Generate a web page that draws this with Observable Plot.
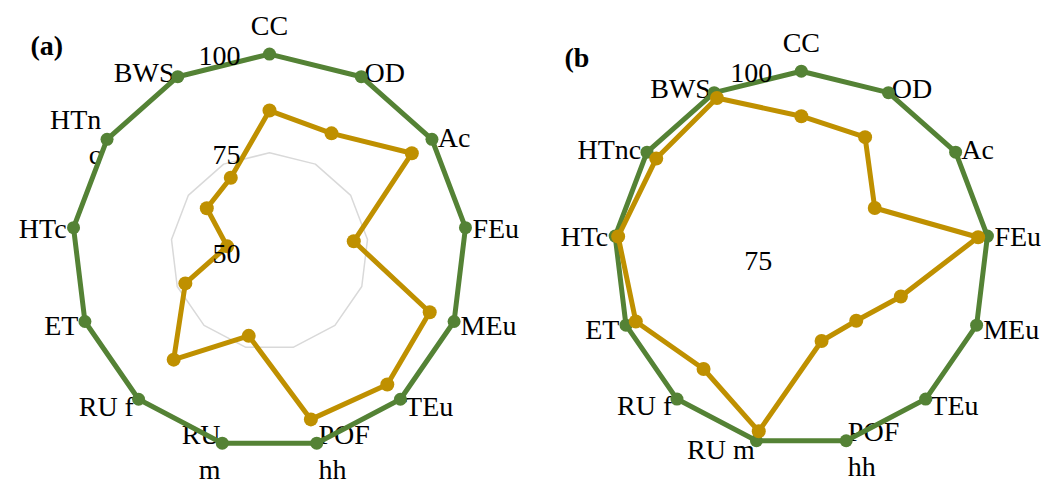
<!DOCTYPE html>
<html><head><meta charset="utf-8">
<script src="https://cdn.jsdelivr.net/npm/d3@7"></script>
<script src="https://cdn.jsdelivr.net/npm/@observablehq/plot@0.6"></script>
<style>
html,body{margin:0;padding:0;background:#fff;}
#wrap{display:flex;width:1050px;height:482px;overflow:hidden;}
#wrap svg{overflow:visible;display:block;}
</style></head><body><div id="wrap"></div>
<script>
// ---- data ----
const axes = ["CC","OD","Ac","FEu","MEu","TEu","POF hh","RU m","RU f","ET","HTc","HTnc","BWS"];
const labelsA = ["CC","OD","Ac","FEu","MEu","TEu","POF\nhh","RU\nm","RU f","ET","HTc","HTn\nc","BWS"];
const labelsB = ["CC","OD","Ac","FEu","MEu","TEu","POF\nhh","RU m","RU f","ET","HTc","HTnc","BWS"];
const greenA = [100,100,100,100,100,100,100,100,100,100,100,100,100];
const goldA  = [85.7,83.8,93.8,71.5,93.4,95.0,93.8,72.0,86.6,72.8,60.8,69.3,71.1];
const greenB = [100,100,100,100,100,100,100,100,100,100,100,100,100];
const goldB  = [94.0,93.3,86.9,98.75,89.2,86.05,86.3,98.7,94.65,98.6,99.6,98.5,99.2];
const ticksA = [50,75,100];
const ringsA = [75,100];
const ticksB = [75,100];
const ringsB = [100];
const titles = ["(a)","(b"];

// ---- layout ----
const GREEN = "#548235", GOLD = "#BF9000", GRID = "#D9D9D9";
const FONT = "'Liberation Serif', 'Times New Roman', serif";
const panels = [
  {title: titles[0], labels: labelsA, green: greenA, gold: goldA, rmin: 50, rmax: 100, ticks: ticksA, rings: ringsA,
   cx: 269, cy: 251, R: 197.4, titleX: 30, titleY: 43},
  {title: titles[1], labels: labelsB, green: greenB, gold: goldB, rmin: 75, rmax: 100, ticks: ticksB, rings: ringsB,
   cx: 275.8, cy: 258.2, R: 187.5, titleX: 39, titleY: 55}
];

function radar(p) {
  const W = 525, H = 482, n = axes.length;
  const theta = i => 2 * Math.PI * i / n;
  const rad = v => (v - p.rmin) / (p.rmax - p.rmin);
  const at = (r, i) => ({x: r * Math.sin(theta(i)), y: r * Math.cos(theta(i))});
  const series = vals => vals.map((v, i) => ({axis: axes[i], v, ...at(rad(v), i)}));
  const closed = pts => [...pts, pts[0]];
  const greenPts = series(p.green), goldPts = series(p.gold);
  const gridPts = p.rings.flatMap(t => closed(axes.map((a, i) => ({t, ...at(rad(t), i)}))));
  const off = 7 / p.R;
  const lab = p.labels.map((label, i) => ({label, s: Math.sin(theta(i)), ...at(1 + off, i)}));
  const labTop = p.labels.map((label, i) => ({label, s: Math.sin(theta(i)), ...at(1 + 30 / p.R, i)}));
  const tickPts = p.ticks.map(t => ({t, x: -29 / p.R, y: rad(t)}));
  const xDomain = [-p.cx / p.R, (W - p.cx) / p.R];
  const yDomain = [-(H - p.cy) / p.R, p.cy / p.R];
  const common = {fontSize: 28, fontFamily: FONT, fill: "#000", lineHeight: 1.25};
  return Plot.plot({
    width: W, height: H, margin: 0,
    x: {domain: xDomain, axis: null},
    y: {domain: yDomain, axis: null},
    style: {fontFamily: FONT, background: "transparent"},
    marks: [
      Plot.line(gridPts, {x: "x", y: "y", z: "t", stroke: GRID, strokeWidth: 1.5}),
      Plot.text(lab.filter(d => d.s > 0.05), {x: "x", y: "y", text: "label", textAnchor: "start", ...common}),
      Plot.text(lab.filter(d => d.s < -0.05), {x: "x", y: "y", text: "label", textAnchor: "end", ...common}),
      Plot.text(labTop.filter(d => Math.abs(d.s) <= 0.05), {x: "x", y: "y", text: "label", textAnchor: "middle", ...common}),
      Plot.line(closed(greenPts), {x: "x", y: "y", stroke: GREEN, strokeWidth: 5, strokeLinejoin: "round"}),
      Plot.dot(greenPts, {x: "x", y: "y", r: 6.5, fill: GREEN, stroke: "none"}),
      Plot.line(closed(goldPts), {x: "x", y: "y", stroke: GOLD, strokeWidth: 5, strokeLinejoin: "round"}),
      Plot.dot(goldPts, {x: "x", y: "y", r: 7, fill: GOLD, stroke: "none"}),
      Plot.text(tickPts, {x: "x", y: "y", text: d => String(d.t), textAnchor: "end", dy: 0, ...common}),
      Plot.text([p.title], {frameAnchor: "top-left", text: d => d, textAnchor: "start", lineAnchor: "middle",
        dx: p.titleX, dy: p.titleY, fontWeight: "bold", ...common})
    ]
  });
}

const wrap = document.getElementById("wrap");
panels.forEach(p => wrap.appendChild(radar(p)));
</script>
</body></html>
